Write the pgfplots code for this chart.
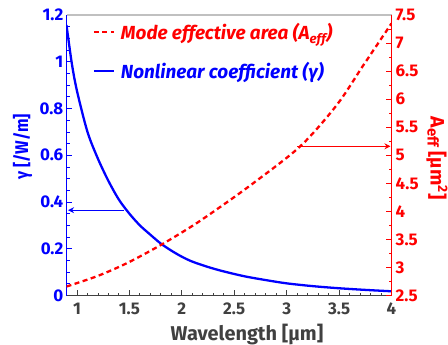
\documentclass[border=0pt]{standalone}
\usepackage{pgfplots}
\pgfplotsset{compat=1.18}
\usepackage{fontspec}
\setmainfont{Fira Sans}
\usetikzlibrary{arrows.meta}
\definecolor{tgray}{HTML}{404040}
\definecolor{lgray}{HTML}{C0C0C0}
\begin{document}
\begin{tikzpicture}
\pgfplotsset{
  common/.style={
    scale only axis, width=325bp, height=280.5bp,
    xmin=0.9, xmax=4,
    tick align=inside,
    /pgf/number format/assume math mode=true,
    tick label style={font=\fontsize{17}{20}\selectfont\bfseries},
    major tick length=5bp, minor tick length=3bp,
  }
}
\begin{axis}[common,
  axis x line*=bottom, axis y line*=left,
  ymin=0, ymax=1.2,
  xtick={1,1.5,2,2.5,3,3.5,4},
  xticklabels={1,1.5,2,2.5,3,3.5,4},
  minor x tick num=4,
  ytick={0,0.2,0.4,0.6,0.8,1,1.2},
  yticklabels={0,0.2,0.4,0.6,0.8,1,1.2},
  minor y tick num=3,
  x axis line style={tgray, line width=1.5pt},
  y axis line style={blue, line width=0.9pt},
  xtick style={tgray, line width=0.9pt},
  ytick style={blue, line width=0.7pt},
  xticklabel style={text=tgray, inner sep=0pt, yshift=-7bp},
  yticklabel style={text=blue, inner sep=0pt, xshift=-3bp},
  xlabel={\fontsize{20}{24}\selectfont\bfseries Wavelength [μm]},
  xlabel style={text=tgray, at={(axis description cs:0.5,0)}, anchor=center, yshift=-39bp, xshift=18bp},
  ylabel={\scalebox{0.87}[1]{\fontsize{18.5}{22}\selectfont\bfseries γ [/W/m]}},
  ylabel style={text=blue, at={(axis description cs:-0.135,0.53)}, anchor=center},
]
\addplot[blue, line width=2.3pt, smooth] coordinates {
(0.90,1.157) (0.95,0.995) (1.0,0.875) (1.1,0.70) (1.2,0.585) (1.3,0.49)
(1.4,0.41) (1.5,0.35) (1.6,0.30) (1.7,0.26) (1.8,0.222) (1.9,0.192)
(2.0,0.166) (2.1,0.145) (2.25,0.122) (2.4,0.103) (2.6,0.082) (2.8,0.066)
(3.0,0.052) (3.25,0.040) (3.5,0.031) (3.75,0.024) (4.0,0.018)
};
\draw[blue, line width=1.1pt, -{Stealth[length=6bp,width=6bp]}] (axis cs:1.45,0.365) -- (axis cs:0.915,0.365);
\end{axis}
\begin{axis}[common,
  axis x line*=top, axis y line*=right,
  ymin=2.5, ymax=7.5,
  xtick=\empty,
  ytick={2.5,3,3.5,4,4.5,5,5.5,6,6.5,7,7.5},
  yticklabels={2.5,3,3.5,4,4.5,5,5.5,6,6.5,7,7.5},
  minor y tick num=1,
  x axis line style={lgray, line width=1.5pt},
  y axis line style={red, line width=0.9pt},
  ytick style={red, line width=0.7pt},
  yticklabel style={text=red, inner sep=0pt, xshift=4bp},
  ylabel={\fontsize{19.5}{22}\selectfont\bfseries A\raisebox{-0.3ex}{\fontsize{15}{16}\selectfont eff} [μm\textsuperscript{2}]},
  ylabel style={text=red, rotate=180, at={(axis description cs:1.14,0.49)}, anchor=center},
  legend style={at={(axis description cs:0.08,0.978)}, anchor=north west, draw=none, fill=none,
    font=\fontsize{19}{22}\selectfont\bfseries\itshape, row sep=17bp,
    inner sep=0pt, nodes={inner sep=2pt}},
  legend cell align=left,
  legend image code/.code={\draw[#1] (0bp,0bp) -- (20bp,0bp);},
]
\addplot[red, line width=2.3pt, dash pattern=on 5bp off 3.5bp, smooth] coordinates {
(0.90,2.66) (1.2,2.85) (1.48,3.08) (1.79,3.39) (2.1,3.74) (2.36,4.07)
(2.68,4.50) (3.13,5.16) (3.48,5.90) (3.73,6.60) (4.0,7.35)
};
\addlegendentry{\hspace{4bp}\textcolor{red}{Mode effective area (A\textsubscript{eff})}}
\addlegendimage{blue, line width=2.3pt}
\addlegendentry{\hspace{4bp}\textcolor{blue}{Nonlinear coefficient (γ)}}
\draw[red, line width=1.1pt, -{Stealth[length=6bp,width=6bp]}] (axis cs:3.1,5.16) -- (axis cs:3.99,5.16);
\end{axis}
\pgfresetboundingbox
\useasboundingbox (-66.5bp,-49.5bp) rectangle (381.5bp,295.5bp);
\end{tikzpicture}
\end{document}
